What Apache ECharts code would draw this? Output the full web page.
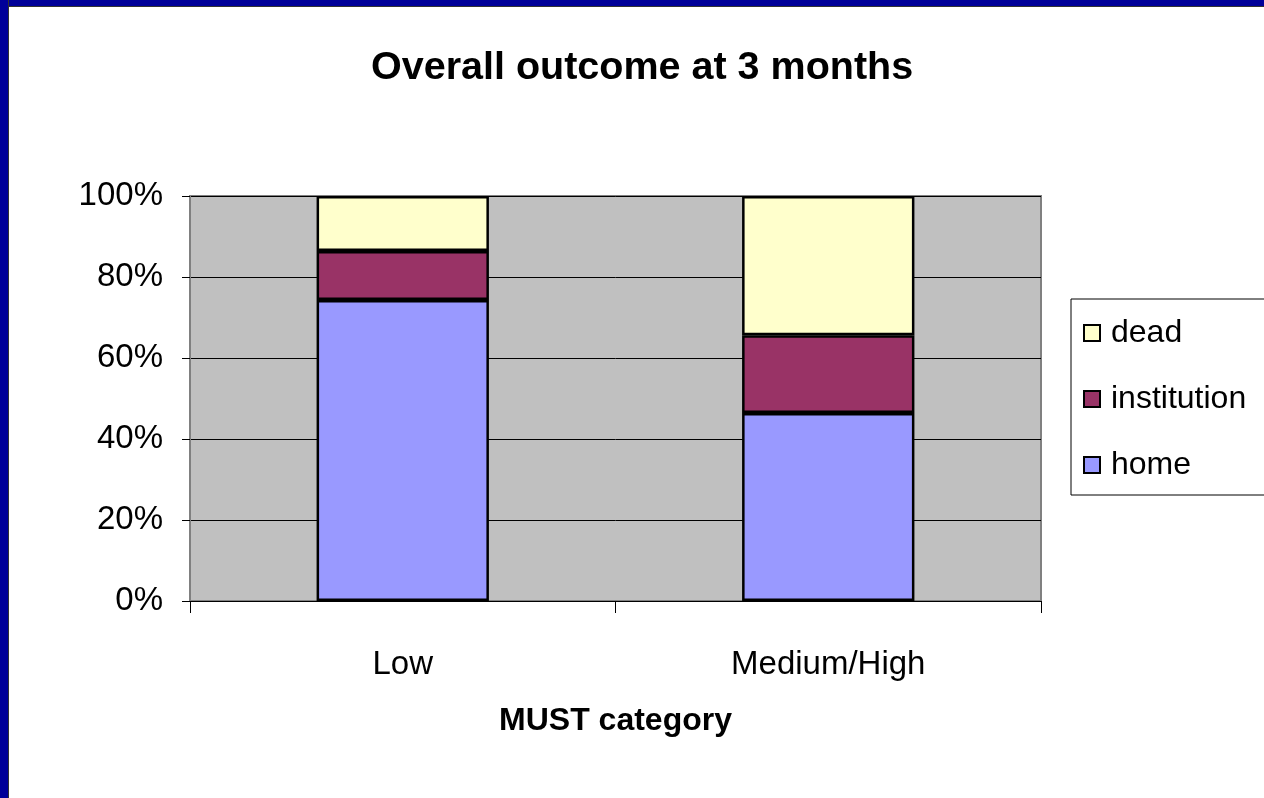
<!DOCTYPE html>
<html>
<head>
<meta charset="utf-8">
<script src="https://cdn.jsdelivr.net/npm/echarts@6/dist/echarts.min.js"></script>
<style>
  html, body { margin: 0; padding: 0; background: #ffffff; }
  #chart { position: absolute; left: 0; top: 0; width: 1264px; height: 798px; }
  .frame-top { position: absolute; left: 0; top: 0; width: 1264px; height: 6px; background: #000099; border-bottom: 1px solid #333; }
  .frame-left { position: absolute; left: 0; top: 0; width: 8px; height: 798px; background: #000099; border-right: 1px solid #333; }
</style>
</head>
<body>
<div id="chart"></div>
<div class="frame-top"></div>
<div class="frame-left"></div>
<script>
// categories and shares (percent)
const categories = ["Low", "Medium/High"];
const homeValues = [74.3, 46.4];
const institutionValues = [12.1, 19.2];
const deadValues = [13.6, 34.4];
const legendOrder = ["dead", "institution", "home"];

const chart = echarts.init(document.getElementById("chart"));

const barBorder = { borderColor: "#000000", borderWidth: 2.5 };

const option = {
  animation: false,
  textStyle: { fontFamily: "Liberation Sans, Arial, sans-serif" },
  title: {
    text: "Overall outcome at 3 months",
    left: 366,
    top: 43,
    textStyle: { fontSize: 39.5, fontWeight: "bold", color: "#000000" }
  },
  legend: {
    data: legendOrder,
    orient: "vertical",
    left: 1071,
    top: 299,
    padding: [18, 30, 14, 12],
    itemWidth: 16,
    itemHeight: 16,
    itemGap: 34,
    icon: "rect",
    backgroundColor: "#ffffff",
    borderColor: "#000000",
    borderWidth: 1,
    borderRadius: 0,
    textStyle: { fontSize: 32, color: "#000000", padding: [0, 0, 0, 6] }
  },
  grid: {
    left: 190,
    right: 223,
    top: 196,
    bottom: 197,
    show: true,
    backgroundColor: "#C0C0C0",
    borderColor: "#808080",
    borderWidth: 2
  },
  xAxis: {
    type: "category",
    data: categories,
    name: "MUST category",
    nameLocation: "middle",
    nameGap: 104,
    nameTextStyle: { fontSize: 32, fontWeight: "bold", color: "#000000" },
    axisLine: { lineStyle: { color: "#000000", width: 1 } },
    axisTick: { show: true, length: 12, lineStyle: { color: "#000000" } },
    axisLabel: { fontSize: 33, color: "#000000", margin: 47 }
  },
  yAxis: {
    type: "value",
    min: 0,
    max: 100,
    interval: 20,
    axisLine: { show: true, lineStyle: { color: "#808080", width: 2 } },
    axisTick: { show: true, length: 8, lineStyle: { color: "#000000" } },
    axisLabel: { fontSize: 33, color: "#000000", margin: 27, formatter: "{value}%" },
    splitLine: { lineStyle: { color: "#000000", width: 1 } }
  },
  series: [
    {
      name: "home",
      type: "bar",
      stack: "total",
      barWidth: "40.5%",
      data: homeValues,
      itemStyle: Object.assign({ color: "#9999FF" }, barBorder)
    },
    {
      name: "institution",
      type: "bar",
      stack: "total",
      data: institutionValues,
      itemStyle: Object.assign({ color: "#993366" }, barBorder)
    },
    {
      name: "dead",
      type: "bar",
      stack: "total",
      data: deadValues,
      itemStyle: Object.assign({ color: "#FFFFCC" }, barBorder)
    }
  ]
};

chart.setOption(option);
</script>
</body>
</html>
